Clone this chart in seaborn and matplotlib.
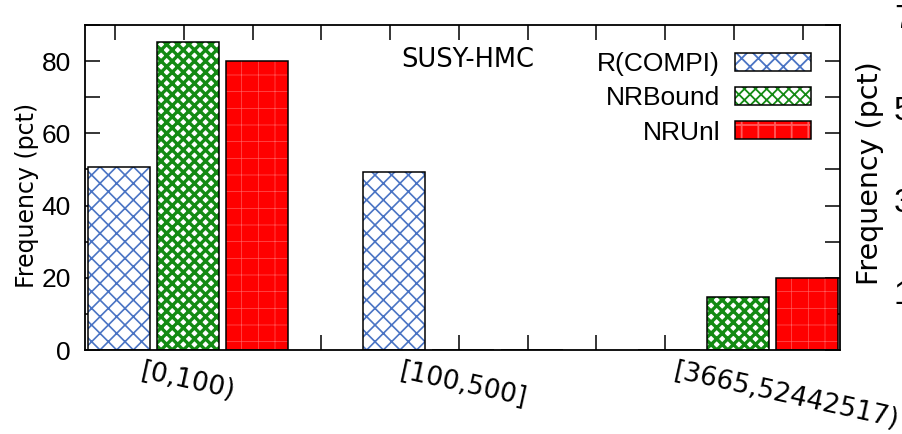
"""Bar chart of degree-bin frequencies for the SUSY-HMC instance."""

import matplotlib

matplotlib.use("Agg")

import matplotlib.pyplot as plt
import numpy as np
import pandas as pd
import seaborn as sns
from matplotlib.legend_handler import HandlerTuple
from matplotlib.patches import Patch
from matplotlib.ticker import FixedLocator, MultipleLocator
from matplotlib.transforms import ScaledTranslation

BINS = ["[0,100)", "[100,500]", "[3665,52442517)"]
SERIES = ["R(COMPI)", "NRBound", "NRUnl"]
R_COMPI = [50.7, 49.3, 0.0]
NR_BOUND = [85.3, 0.0, 14.7]
NR_UNL = [80.0, 0.0, 20.0]
Y_TICKS = [0, 20, 40, 60, 80]
NEIGHBOUR_TICKS = ["70", "50", "30", "10"]

FACE = {"R(COMPI)": "white", "NRBound": "white", "NRUnl": "#ff0000"}
HATCH = {"R(COMPI)": "xx", "NRBound": "xxx", "NRUnl": "+"}
HATCH_COLOR = {"R(COMPI)": "#4a74c4", "NRBound": "#138a13", "NRUnl": "#ff5a5a"}
HATCH_WIDTH = {"R(COMPI)": 1.2, "NRBound": 2.4, "NRUnl": 0.5}

ARIAL = "Liberation Sans"
DEJAVU = "DejaVu Sans"

sns.set_style("white")
plt.rcParams["font.family"] = [DEJAVU]
plt.rcParams["hatch.linewidth"] = 1.3
for key in ["text.color", "axes.labelcolor", "xtick.color", "ytick.color"]:
    plt.rcParams[key] = "black"

df = pd.DataFrame(
    {
        "bin": BINS * 3,
        "series": np.repeat(SERIES, len(BINS)),
        "pct": R_COMPI + NR_BOUND + NR_UNL,
    }
)

fig = plt.figure(figsize=(9.02, 4.34), dpi=100)
ax = fig.add_axes([0.0942, 0.1935, 0.8370, 0.7489])

# pass 1: hatched fills
sns.barplot(
    data=df, x="bin", y="pct", hue="series", order=BINS, hue_order=SERIES,
    palette=FACE, width=0.75, gap=0.1, errorbar=None, legend=False, ax=ax,
)
fill_patches = list(ax.patches)
for patch, name in zip(fill_patches, np.repeat(SERIES, len(BINS))):
    patch.set_facecolor(FACE[name])
    patch.set_edgecolor(HATCH_COLOR[name])
    patch.set_hatch(HATCH[name])
    patch.set_linewidth(0)
    if hasattr(patch, "set_hatch_linewidth"):
        patch.set_hatch_linewidth(HATCH_WIDTH[name])

# pass 2: black outlines
sns.barplot(
    data=df, x="bin", y="pct", hue="series", order=BINS, hue_order=SERIES,
    palette=FACE, width=0.75, gap=0.1, errorbar=None, legend=False, ax=ax,
)
for patch in ax.patches[len(fill_patches):]:
    patch.set_facecolor("none")
    patch.set_edgecolor("black")
    patch.set_linewidth(1.1)

ax.set_xlim(-0.3745, 2.371)
ax.set_ylim(0, 90)
ax.set_xlabel("")
ax.set_ylabel("Frequency (pct)", fontsize=17, family=DEJAVU, color="black")
ax.yaxis.set_label_coords(-0.061, 0.477)

for side in ax.spines.values():
    side.set_visible(True)
    side.set_linewidth(1.3)
    side.set_color("black")

ax.set_yticks(Y_TICKS)
ax.yaxis.set_minor_locator(MultipleLocator(10))
ax.tick_params(axis="y", which="both", direction="in", left=True, right=True,
               length=11, width=1.1, color="black", labelcolor="black",
               pad=10, labelsize=19)
for lab in ax.get_yticklabels():
    lab.set_fontfamily(ARIAL)

ax.xaxis.set_minor_locator(FixedLocator(np.arange(-0.25, 2.3, 0.25) - 0.015))
ax.tick_params(axis="x", which="minor", direction="in", bottom=True, top=True,
               length=11, width=1.1, color="black")
ax.tick_params(axis="x", which="major", length=0, pad=6, labelsize=19,
               labelcolor="black", labelrotation=-12.5)
ax.xaxis.set_zorder(0.5)
for i, lab in enumerate(ax.get_xticklabels()):
    lab.set_fontfamily(DEJAVU)
    lab.set_ha("center")
    if i == 2:
        lab.set_transform(lab.get_transform()
                          + ScaledTranslation(0.48, 0, fig.dpi_scale_trans))

ax.text(0.507, 0.871, "SUSY-HMC", transform=ax.transAxes, ha="center",
        va="baseline", fontsize=18.5, family=DEJAVU, color="black")

handles = [
    (
        Patch(facecolor=FACE[s], edgecolor=HATCH_COLOR[s], hatch=HATCH[s], linewidth=0),
        Patch(facecolor="none", edgecolor="black", linewidth=1.1),
    )
    for s in SERIES
]
ax.legend(
    handles, SERIES, handler_map={tuple: HandlerTuple(ndivide=1, pad=0)},
    loc="upper right", bbox_to_anchor=(0.962, 0.917), borderaxespad=0,
    borderpad=0, markerfirst=False, frameon=False, handlelength=2.9,
    handleheight=0.68, handletextpad=0.55, labelspacing=0.39,
    prop={"family": ARIAL, "size": 19}, labelcolor="black",
)

# edge of the neighbouring panel that was cut into the picture
fig.text(870 / 902, (434 - 173) / 434, "Frequency (pct)", rotation=90,
         ha="center", va="center", fontsize=20.5, family=DEJAVU, color="black")
for k, lab in enumerate(NEIGHBOUR_TICKS):
    fig.text(894 / 902, (434 - (20 + 91.7 * k)) / 434, lab, ha="left",
             va="center", fontsize=24, family=ARIAL, color="black")

fig.savefig("out.png", dpi=100)
